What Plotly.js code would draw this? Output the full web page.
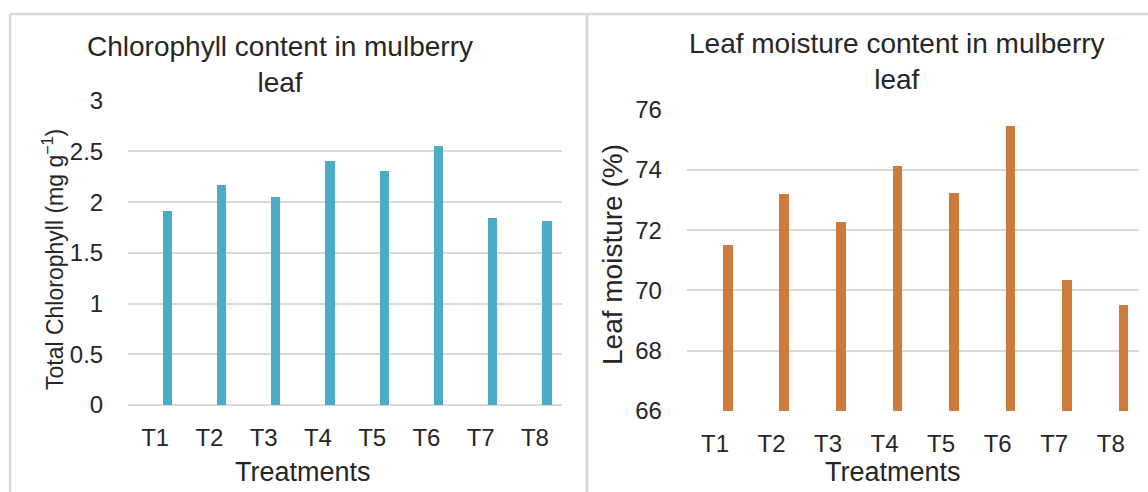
<!DOCTYPE html>
<html>
<head>
<meta charset="utf-8">
<script src="https://cdn.plot.ly/plotly-3.0.1.min.js"></script>
<style>
  html, body { margin: 0; padding: 0; background: #ffffff; }
  #chart { width: 1148px; height: 492px; }
</style>
</head>
<body>
<div id="chart"></div>
<script>
// ---- Data ----
const treatments = ["T1", "T2", "T3", "T4", "T5", "T6", "T7", "T8"];
const chlorophyll = [1.91, 2.17, 2.05, 2.41, 2.31, 2.55, 1.84, 1.81];
const leafMoisture = [71.49, 73.19, 72.26, 74.13, 73.23, 75.45, 70.34, 69.50];

const chlTitle = "Chlorophyll content in mulberry<br>leaf";
const moistTitle = "Leaf moisture content in mulberry<br>leaf";
const chlYTitle = "Total Chlorophyll (mg g<sup>\u22121</sup>)";
const moistYTitle = "Leaf moisture (%)";
const xTitle = "Treatments";

// ---- Layout helpers (pixel -> paper) ----
const W = 1148, H = 492;
const px = v => v / W;
const py = v => 1 - v / H;

const FONT = "Liberation Sans, Arial, Helvetica, sans-serif";
const TXT = "#262626";
const GRID = "#d9d9d9";

const traces = [
  {
    type: "bar", x: treatments, y: chlorophyll, xaxis: "x", yaxis: "y",
    width: 0.17, offset: 0.14,
    marker: { color: "#4bacc6" }, hoverinfo: "x+y", showlegend: false
  },
  {
    type: "bar", x: treatments, y: leafMoisture, xaxis: "x2", yaxis: "y2",
    width: 0.17, offset: 0.14,
    marker: { color: "#cc7b39" }, hoverinfo: "x+y", showlegend: false
  }
];

const xCommon = {
  type: "category", range: [-0.5, 7.5], showgrid: false, zeroline: false, showline: false,
  ticks: "outside", ticklen: 11, tickcolor: "rgba(0,0,0,0)",
  tickfont: { family: FONT, size: 24, color: TXT }, fixedrange: true
};
const yCommon = {
  showgrid: true, gridcolor: GRID, gridwidth: 2, showline: false,
  ticks: "outside", ticklen: 19, tickcolor: "rgba(0,0,0,0)",
  tickfont: { family: FONT, size: 24, color: TXT }, fixedrange: true
};

const layout = {
  width: W, height: H,
  margin: { l: 0, r: 0, t: 0, b: 0 },
  paper_bgcolor: "#ffffff", plot_bgcolor: "rgba(0,0,0,0)",
  bargap: 0,
  xaxis: Object.assign({}, xCommon, { domain: [px(128), px(562)], anchor: "y" }),
  yaxis: Object.assign({}, yCommon, {
    domain: [py(405), py(100.7)], anchor: "x",
    range: [0, 3], dtick: 0.5, tick0: 0,
    zeroline: true, zerolinecolor: GRID, zerolinewidth: 2
  }),
  xaxis2: Object.assign({}, xCommon, { domain: [px(686.7), px(1139)], anchor: "y2" }),
  yaxis2: Object.assign({}, yCommon, {
    domain: [py(411), py(109.5)], anchor: "x2",
    range: [66, 76], dtick: 2, tick0: 66, zeroline: false
  }),
  shapes: [
    { type: "line", xref: "paper", yref: "paper", x0: px(10), x1: px(1160), y0: py(14), y1: py(14),
      line: { color: GRID, width: 2.5 } },
    { type: "line", xref: "paper", yref: "paper", x0: px(10), x1: px(10), y0: py(14), y1: py(520),
      line: { color: GRID, width: 2.5 } },
    { type: "line", xref: "paper", yref: "paper", x0: px(587), x1: px(587), y0: py(14), y1: py(520),
      line: { color: GRID, width: 3 } }
  ],
  annotations: [
    { xref: "paper", yref: "paper", x: px(280), y: py(64), xanchor: "center", yanchor: "middle",
      text: chlTitle, showarrow: false, align: "center",
      font: { family: FONT, size: 28, color: TXT } },
    { xref: "paper", yref: "paper", x: px(897), y: py(61), xanchor: "center", yanchor: "middle",
      text: moistTitle, showarrow: false, align: "center",
      font: { family: FONT, size: 28, color: TXT } },
    { xref: "paper", yref: "paper", x: px(303), y: py(472), xanchor: "center", yanchor: "middle",
      text: xTitle, showarrow: false, font: { family: FONT, size: 27, color: TXT } },
    { xref: "paper", yref: "paper", x: px(893), y: py(472), xanchor: "center", yanchor: "middle",
      text: xTitle, showarrow: false, font: { family: FONT, size: 27, color: TXT } },
    { xref: "paper", yref: "paper", x: px(53), y: py(260), xanchor: "center", yanchor: "middle",
      text: chlYTitle, showarrow: false, textangle: -90,
      font: { family: FONT, size: 23, color: TXT } },
    { xref: "paper", yref: "paper", x: px(612), y: py(254), xanchor: "center", yanchor: "middle",
      text: moistYTitle, showarrow: false, textangle: -90,
      font: { family: FONT, size: 28, color: TXT } }
  ]
};

Plotly.newPlot("chart", traces, layout, { displayModeBar: false, staticPlot: true });
</script>
</body>
</html>
